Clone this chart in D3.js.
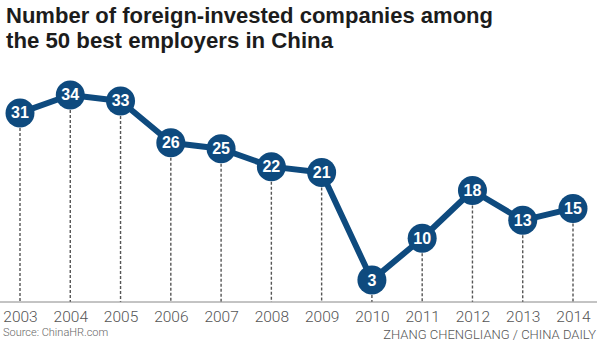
<!DOCTYPE html>
<html><head><meta charset="utf-8">
<script src="https://cdn.jsdelivr.net/npm/d3@7"></script>
<style>body{margin:0;background:#fff}svg{display:block}</style>
</head><body>
<svg id="c" width="600" height="349"></svg>
<script>
const years = ["2003","2004","2005","2006","2007","2008","2009","2010","2011","2012","2013","2014"];
const values = [31,34,33,26,25,22,21,3,10,18,13,15];
const titleLines = ["Number of foreign-invested companies among","the 50 best employers in China"];
const sourceText = "Source: ChinaHR.com";
const creditText = "ZHANG CHENGLIANG / CHINA DAILY";

const svg = d3.select("#c");
const blue = "#0e4a7e";
const x = d3.scalePoint().domain(years).range([20, 573]);
const y = d3.scaleLinear().domain([0, 35]).range([298, 89]);
const baseY = 302;

// title
const titleWidths = [487, 327];
svg.selectAll("text.title").data(titleLines).join("text")
  .attr("class","title")
  .attr("x", 6).attr("y", (d,i)=> 23 + i*25)
  .attr("font-family","Liberation Sans, Arial, sans-serif")
  .attr("font-weight","bold").attr("font-size", 22)
  .attr("textLength",(d,i)=>titleWidths[i]).attr("lengthAdjust","spacingAndGlyphs")
  .attr("fill","#1c1c1c")
  .text(d=>d);

// dashed drops
svg.selectAll("line.drop").data(values).join("line")
  .attr("x1",(d,i)=>x(years[i])).attr("x2",(d,i)=>x(years[i]))
  .attr("y1",d=>y(d)).attr("y2",baseY)
  .attr("stroke","#555").attr("stroke-width",1.4).attr("stroke-dasharray","3,2");

// axis
const axis = d3.axisBottom(x).tickSize(0).tickPadding(9);
const ax = svg.append("g").attr("transform",`translate(0,${baseY})`).call(axis);
ax.select(".domain").remove();
ax.selectAll("text").attr("font-family","Roboto, Liberation Sans, sans-serif")
  .attr("font-size",15.5).attr("fill","#555").attr("font-weight","300");
svg.append("line").attr("x1",0).attr("x2",597).attr("y1",baseY).attr("y2",baseY)
  .attr("stroke","#888").attr("stroke-width",1);

// line
const line = d3.line().x((d,i)=>x(years[i])).y(d=>y(d));
svg.append("path").datum(values).attr("d",line)
  .attr("fill","none").attr("stroke",blue).attr("stroke-width",6).attr("stroke-linejoin","round");

// circles
svg.selectAll("circle.pt").data(values).join("circle")
  .attr("cx",(d,i)=>x(years[i])).attr("cy",d=>y(d)).attr("r",14.5)
  .attr("fill",blue);
svg.selectAll("text.lab").data(values).join("text")
  .attr("x",(d,i)=>x(years[i])).attr("y",d=>y(d)+5.5)
  .attr("text-anchor","middle")
  .attr("font-family","Liberation Sans, Arial, sans-serif")
  .attr("font-weight","bold").attr("font-size",16).attr("fill","#fff")
  .text(d=>d);

// source and credit
svg.append("text").attr("x",3).attr("y",336)
  .attr("font-family","Roboto, Liberation Sans, sans-serif").attr("font-weight","300")
  .attr("font-size",11).attr("fill","#666").text(sourceText);
svg.append("text").attr("x",596).attr("y",339).attr("text-anchor","end")
  .attr("font-family","Roboto, Liberation Sans, sans-serif").attr("font-weight","300")
  .attr("font-size",13).attr("fill","#555").text(creditText);
</script>
</body></html>
